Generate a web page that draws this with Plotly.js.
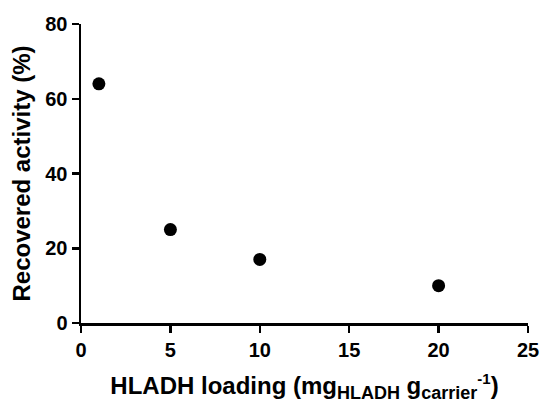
<!DOCTYPE html>
<html>
<head>
<meta charset="utf-8">
<script src="https://cdn.plot.ly/plotly-3.0.1.min.js"></script>
<style>
  html, body { margin: 0; padding: 0; background: #fff; }
  #chart { width: 542px; height: 403px; }
</style>
</head>
<body>
<div id="chart"></div>
<script>
// HLADH loading (mg per g carrier) vs. recovered activity (%)
const loading = [1, 5, 10, 20];
const recoveredActivity = [64, 25, 17, 10];
const xTicks = [0, 5, 10, 15, 20, 25];
const yTicks = [0, 20, 40, 60, 80];

const font = { family: 'Liberation Sans, Arial, sans-serif', color: '#000', weight: 'bold' };

const trace = {
  x: loading,
  y: recoveredActivity,
  type: 'scatter',
  mode: 'markers',
  marker: { color: '#000', size: 13 },
  cliponaxis: false,
  hoverinfo: 'x+y'
};

const axisCommon = {
  showline: true,
  linecolor: '#000',
  linewidth: 2.5,
  ticks: 'outside',
  ticklen: 7,
  tickwidth: 2.5,
  tickcolor: '#000',
  showgrid: false,
  zeroline: false,
  tickfont: Object.assign({}, font, { size: 20 }),
  fixedrange: true
};

// larger sub/superscripts than the default 70%
const sub = s => '<sub><span style="font-size:18px">' + s + '</span></sub>';
const sup = s => '<sup><span style="font-size:15px">' + s + '</span></sup>';

const layout = {
  width: 542,
  height: 403,
  margin: { l: 81, r: 14, t: 24, b: 80 },
  paper_bgcolor: '#fff',
  plot_bgcolor: '#fff',
  showlegend: false,
  font: font,
  xaxis: Object.assign({}, axisCommon, {
    range: [0, 25],
    tickvals: xTicks,
    title: {
      text: 'HLADH loading (mg' + sub('HLADH') + ' g' + sub('carrier') + sup('-1') + ')',
      font: Object.assign({}, font, { size: 24 }),
      standoff: 20
    }
  }),
  yaxis: Object.assign({}, axisCommon, {
    range: [0, 80],
    tickvals: yTicks,
    title: {
      text: 'Recovered activity (%)',
      font: Object.assign({}, font, { size: 24 }),
      standoff: 8
    }
  })
};

Plotly.newPlot('chart', [trace], layout, { displayModeBar: false, staticPlot: true });
</script>
</body>
</html>
